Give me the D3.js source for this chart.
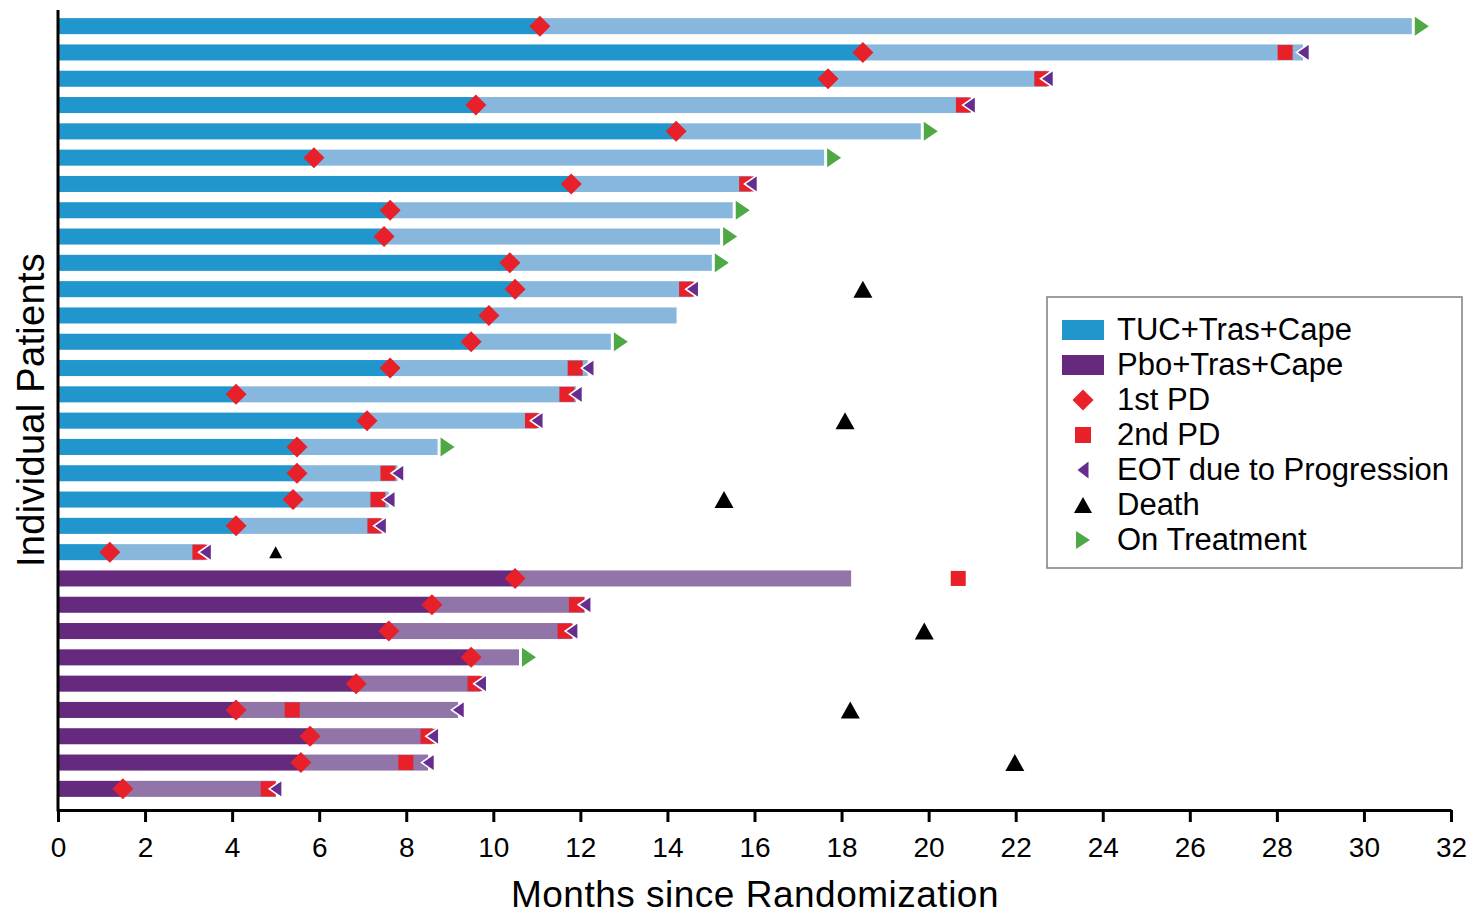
<!DOCTYPE html>
<html>
<head>
<meta charset="utf-8">
<script src="https://cdn.jsdelivr.net/npm/d3@7"></script>
<style>
  html, body { margin: 0; padding: 0; background: #ffffff; }
  svg { display: block; font-family: "Liberation Sans", Arial, Helvetica, sans-serif; }
</style>
</head>
<body>
<svg id="chart" width="1474" height="914"></svg>
<script>
// ---------------- DATA (one entry per patient, top to bottom) ----------------
const arms = ["TUC","TUC","TUC","TUC","TUC","TUC","TUC","TUC","TUC","TUC","TUC","TUC","TUC","TUC","TUC","TUC","TUC","TUC","TUC","TUC","TUC",
              "Pbo","Pbo","Pbo","Pbo","Pbo","Pbo","Pbo","Pbo","Pbo"];
const firstPD = [11.07, 18.49, 17.69, 9.6, 14.2, 5.88, 11.79, 7.63, 7.49, 10.38, 10.5, 9.9, 9.49, 7.63, 4.09, 7.1, 5.49, 5.49, 5.4, 4.09, 1.19,
                 10.5, 8.59, 7.6, 9.49, 6.85, 4.09, 5.79, 5.58, 1.49];
const treatmentEnd = [31.1, 28.6, 22.72, 20.93, 19.82, 17.6, 15.92, 15.5, 15.21, 15.02, 14.57, 14.21, 12.7, 12.17, 11.9, 11.0, 8.72, 7.8, 7.6, 7.4, 3.38,
                      18.22, 12.1, 11.8, 10.59, 9.7, 9.19, 8.6, 8.5, 5.0];
const secondPD = [null, 28.19, 22.6, 20.8, null, null, 15.82, null, null, null, 14.44, null, null, 11.88, 11.69, 10.9, null, 7.58, 7.35, 7.28, 3.26,
                  20.68, 11.91, 11.65, null, 9.58, 5.38, 8.5, 7.99, 4.83];
const endStatus = ["on","eot","eot","eot","on","on","eot","on","on","on","eot","none","on","eot","eot","eot","on","eot","eot","eot","eot",
                   "none","eot","eot","on","eot","eot","eot","eot","eot"];
const deathTime = [null, null, null, null, null, null, null, null, null, null, 18.49, null, null, null, null, 18.08, null, null, 15.3, null, 5.0,
                   null, null, 19.9, null, null, 18.2, null, 21.98, null];
const smallDeath = [false,false,false,false,false,false,false,false,false,false,false,false,false,false,false,false,false,false,false,false,true,
                    false,false,false,false,false,false,false,false,false];
const xTicks = [0,2,4,6,8,10,12,14,16,18,20,22,24,26,28,30,32];
const legendLabels = ["TUC+Tras+Cape","Pbo+Tras+Cape","1st PD","2nd PD","EOT due to Progression","Death","On Treatment"];
const legendKinds  = ["tuc","pbo","pd1","pd2","eot","death","on"];

// ---------------- STYLE ----------------
const armDark  = { TUC: "#2196cd", Pbo: "#652a7e" };
const armLight = { TUC: "#88b7dd", Pbo: "#9175a8" };
const RED = "#e8202a", GREEN = "#4ea944", EOTC = "#642d8f";

const svg = d3.select("#chart");
const x = d3.scaleLinear().domain([0, 32]).range([58, 1451]);
const y = d3.scaleBand().domain(d3.range(arms.length)).range([13, 802]).paddingInner(0.39).paddingOuter(0.195);
const bh = y.bandwidth();
const cy = i => y(i) + bh / 2;

const rows = d3.range(arms.length).map(i => ({
  i, arm: arms[i], pd1: firstPD[i], end: treatmentEnd[i], pd2: secondPD[i],
  status: endStatus[i], death: deathTime[i], small: smallDeath[i]
}));

const g = svg.append("g");

// dark segment: randomization -> 1st PD
g.selectAll("rect.dark").data(rows).join("rect")
  .attr("x", d => x(0)).attr("y", d => y(d.i))
  .attr("width", d => x(d.pd1) - x(0)).attr("height", bh)
  .attr("fill", d => armDark[d.arm]);
// light segment: 1st PD -> end
g.selectAll("rect.light").data(rows).join("rect")
  .attr("x", d => x(d.pd1)).attr("y", d => y(d.i))
  .attr("width", d => x(d.end) - x(d.pd1)).attr("height", bh)
  .attr("fill", d => armLight[d.arm]);

// symbol paths
function diamond(cx, cy, w, h) { return `M${cx},${cy-h/2}L${cx+w/2},${cy}L${cx},${cy+h/2}L${cx-w/2},${cy}Z`; }
function leftTri(cx, cy, w, h) { return `M${cx-w/2},${cy}L${cx+w/2},${cy-h/2}L${cx+w/2},${cy+h/2}Z`; }
function rightTri(lx, cy, w, h) { return `M${lx},${cy-h/2}L${lx+w},${cy}L${lx},${cy+h/2}Z`; }
function upTri(cx, cy, w, h) { return `M${cx},${cy-h/2}L${cx+w/2},${cy+h/2}L${cx-w/2},${cy+h/2}Z`; }

// 2nd PD squares
g.selectAll("rect.pd2").data(rows.filter(d => d.pd2 != null)).join("rect")
  .attr("x", d => x(d.pd2) - 7.5).attr("y", d => cy(d.i) - 7.5)
  .attr("width", 15).attr("height", 15).attr("fill", RED);

// EOT due to progression
g.selectAll("path.eot").data(rows.filter(d => d.status === "eot")).join("path")
  .attr("d", d => leftTri(x(d.end), cy(d.i), 13, 18))
  .attr("fill", EOTC).attr("stroke", "#fff").attr("stroke-width", 1.6).attr("stroke-linejoin", "miter");

// On treatment
g.selectAll("path.on").data(rows.filter(d => d.status === "on")).join("path")
  .attr("d", d => rightTri(x(d.end) + 3, cy(d.i), 14, 19))
  .attr("fill", GREEN);

// 1st PD diamonds
g.selectAll("path.pd1").data(rows).join("path")
  .attr("d", d => diamond(x(d.pd1), cy(d.i), 21, 21))
  .attr("fill", RED);

// deaths
g.selectAll("path.death").data(rows.filter(d => d.death != null)).join("path")
  .attr("d", d => d.small ? upTri(x(d.death), cy(d.i), 13, 12) : upTri(x(d.death), cy(d.i), 19, 17))
  .attr("fill", "#000");

// ---------------- AXES ----------------
const xAxis = svg.append("g").attr("transform", "translate(0,810)")
  .call(d3.axisBottom(x).tickValues(xTicks).tickSize(12).tickSizeOuter(0).tickPadding(15).tickFormat(d3.format("d")));
xAxis.select(".domain").attr("stroke", "#000").attr("stroke-width", 3);
xAxis.selectAll(".tick line").attr("stroke", "#000").attr("stroke-width", 3);
xAxis.selectAll(".tick text").attr("font-size", 28).attr("fill", "#000")
  .attr("font-family", "\"Liberation Sans\", Arial, sans-serif");

svg.append("line").attr("x1", x(0)).attr("x2", x(0)).attr("y1", 10).attr("y2", 811.5)
  .attr("stroke", "#000").attr("stroke-width", 3);

svg.append("text").attr("x", 755).attr("y", 907).attr("text-anchor", "middle")
  .attr("font-size", 37).attr("letter-spacing", "0.5px").attr("fill", "#000").text("Months since Randomization");
svg.append("text").attr("transform", "translate(44,410) rotate(-90)").attr("text-anchor", "middle")
  .attr("font-size", 38).attr("letter-spacing", "0.3px").attr("fill", "#000").text("Individual Patients");

// ---------------- LEGEND ----------------
const leg = svg.append("g");
leg.append("rect").attr("x", 1047).attr("y", 297).attr("width", 415).attr("height", 271)
  .attr("fill", "#fff").attr("stroke", "#7f7f7f").attr("stroke-width", 1.5);
const lx = 1083, l0 = 330, ls = 35;
legendKinds.forEach((k, j) => {
  const yy = l0 + j * ls;
  if (k === "tuc" || k === "pbo") {
    leg.append("rect").attr("x", 1062).attr("y", yy - 10).attr("width", 42).attr("height", 20)
      .attr("fill", k === "tuc" ? armDark.TUC : armDark.Pbo);
  } else if (k === "pd1") {
    leg.append("path").attr("d", diamond(lx, yy, 21, 21)).attr("fill", RED);
  } else if (k === "pd2") {
    leg.append("rect").attr("x", lx - 8).attr("y", yy - 8).attr("width", 16).attr("height", 16).attr("fill", RED);
  } else if (k === "eot") {
    leg.append("path").attr("d", leftTri(lx, yy, 11, 17)).attr("fill", EOTC);
  } else if (k === "death") {
    leg.append("path").attr("d", upTri(lx, yy, 18, 16)).attr("fill", "#000");
  } else if (k === "on") {
    leg.append("path").attr("d", rightTri(lx - 7, yy, 14, 18)).attr("fill", GREEN);
  }
  leg.append("text").attr("x", 1117).attr("y", yy + 10).attr("font-size", 31).attr("fill", "#000")
    .text(legendLabels[j]);
});
</script>
</body>
</html>
